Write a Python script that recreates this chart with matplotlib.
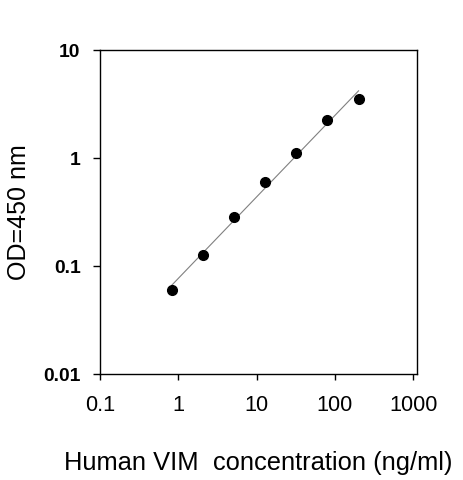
import matplotlib
matplotlib.use('Agg')
import matplotlib.pyplot as plt
import numpy as np

# ---------------------------------------------------
conc = [0.82, 2.05, 5.12, 12.8, 32, 80, 200]          # ng/ml
od = [0.060, 0.126, 0.284, 0.608, 1.11, 2.25, 3.57]  # OD 450 nm
x_ticks = [0.1, 1, 10, 100, 1000]
x_tick_labels = ['0.1', '1', '10', '100', '1000']
y_ticks = [0.01, 0.1, 1, 10]
y_tick_labels = ['0.01', '0.1', '1', '10']
x_title = 'Human VIM  concentration (ng/ml)'
y_title = 'OD=450 nm'
# ---------------------------------------------------

plt.rcParams['font.family'] = ['Liberation Sans', 'DejaVu Sans']

fig = plt.figure(figsize=(4.63, 4.8), dpi=100)
ax = fig.add_axes([0.216, 0.2208, 0.6846, 0.674])

# straight-line fit in log-log space
p = np.polyfit(np.log10(conc), np.log10(od), 1)
fit_x = np.array([min(conc), max(conc)])
fit_y = 10 ** np.polyval(p, np.log10(fit_x))
ax.plot(fit_x, fit_y, '-', color='#808080', linewidth=0.8)
ax.plot(conc, od, 'o', color='black', markersize=7)

ax.set_xscale('log')
ax.set_yscale('log')
ax.set_xlim(0.1, 1115)
ax.set_ylim(0.01, 10)
ax.set_xticks(x_ticks)
ax.set_xticklabels(x_tick_labels, fontsize=15.7)
ax.set_yticks(y_ticks)
ax.set_yticklabels(y_tick_labels, fontsize=13.9, fontweight='bold')
ax.minorticks_off()
ax.tick_params(axis='x', direction='out', length=4, pad=11, width=1)
ax.tick_params(axis='y', direction='out', length=5, pad=9, width=1)
for s in ax.spines.values():
    s.set_linewidth(1.0)

ax.set_xlabel(x_title, fontsize=18.4, labelpad=25)
ax.set_ylabel(y_title, fontsize=18, labelpad=9)

fig.savefig('out.png', dpi=100)
